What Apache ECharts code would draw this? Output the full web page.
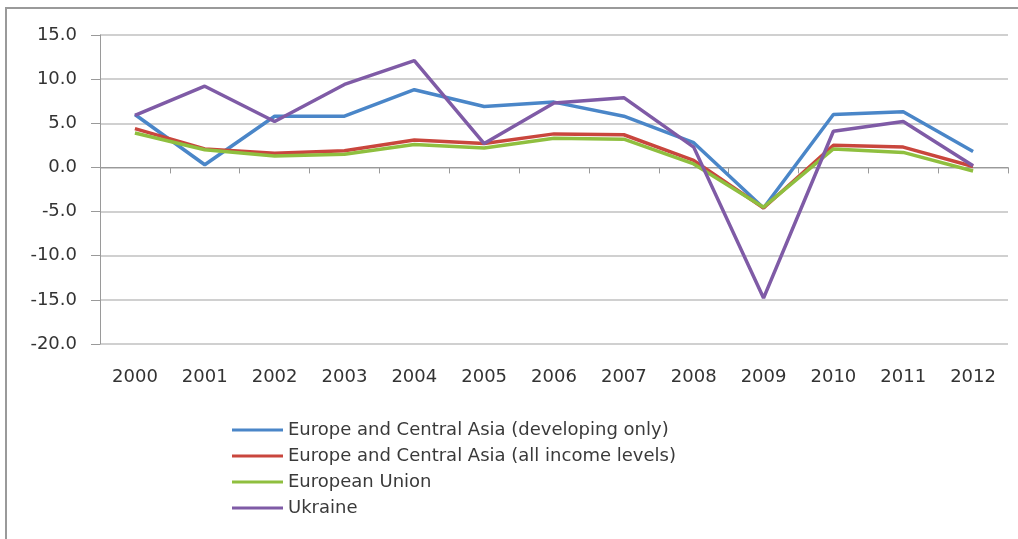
<!DOCTYPE html>
<html>
<head>
<meta charset="utf-8">
<script src="https://cdn.jsdelivr.net/npm/echarts@6/dist/echarts.min.js"></script>
<style>
  html, body { margin: 0; padding: 0; background: #ffffff; }
  #chart { width: 1018px; height: 539px; }
</style>
</head>
<body>
<div id="chart"></div>
<script>
// GDP growth (annual %), 2000-2012
const years = ['2000','2001','2002','2003','2004','2005','2006','2007','2008','2009','2010','2011','2012'];
const ecaDeveloping = [6.0, 0.3, 5.8, 5.8, 8.8, 6.9, 7.4, 5.8, 2.8, -4.6, 6.0, 6.3, 1.8];
const ecaAllIncome  = [4.4, 2.1, 1.6, 1.9, 3.1, 2.7, 3.8, 3.7, 0.8, -4.6, 2.5, 2.3, 0.1];
const euroUnion     = [3.9, 2.0, 1.3, 1.5, 2.6, 2.2, 3.3, 3.2, 0.4, -4.5, 2.1, 1.7, -0.4];
const ukraine       = [5.9, 9.2, 5.2, 9.4, 12.1, 2.7, 7.3, 7.9, 2.3, -14.8, 4.1, 5.2, 0.2];
const seriesNames = [
  'Europe and Central Asia (developing only)',
  'Europe and Central Asia (all income levels)',
  'European Union',
  'Ukraine'
];
const yMin = -20, yMax = 15, yStep = 5;

const colors = ['#4a86c8', '#c9463d', '#8fbf3f', '#7f5ba6'];
const font = '"DejaVu Sans", sans-serif';

const chart = echarts.init(document.getElementById('chart'));
const values = [ecaDeveloping, ecaAllIncome, euroUnion, ukraine];

chart.setOption({
  animation: false,
  backgroundColor: '#ffffff',
  color: colors,
  graphic: [
    { type: 'line', shape: { x1: 5, y1: 8, x2: 1018, y2: 8 }, style: { stroke: '#9a9a9a', lineWidth: 2 } },
    { type: 'line', shape: { x1: 6, y1: 8, x2: 6, y2: 539 }, style: { stroke: '#9a9a9a', lineWidth: 2 } }
  ],
  grid: { left: 100, right: 10, top: 35, bottom: 195, containLabel: false },
  legend: {
    orient: 'vertical',
    left: 232,
    top: 421,
    padding: 0,
    icon: 'rect',
    itemWidth: 51,
    itemHeight: 3,
    itemGap: 8,
    textStyle: { fontFamily: font, fontSize: 18, color: '#3a3a3a' },
    data: seriesNames
  },
  xAxis: [
    {
      type: 'category',
      data: years,
      boundaryGap: true,
      axisLine: { onZero: true, lineStyle: { color: '#9a9a9a', width: 1 } },
      axisTick: { show: true, length: 6, lineStyle: { color: '#9a9a9a' } },
      axisLabel: { show: false },
      splitLine: { show: false }
    },
    {
      type: 'category',
      data: years,
      position: 'bottom',
      boundaryGap: true,
      axisLine: { show: false, onZero: false },
      axisTick: { show: false },
      axisLabel: { fontFamily: font, fontSize: 18, color: '#333333', margin: 24 },
      splitLine: { show: false }
    }
  ],
  yAxis: {
    type: 'value',
    min: yMin,
    max: yMax,
    interval: yStep,
    axisLine: { show: true, lineStyle: { color: '#9a9a9a' } },
    axisTick: { show: true, length: 9, lineStyle: { color: '#9a9a9a' } },
    axisLabel: {
      fontFamily: font, fontSize: 18, color: '#333333', margin: 23,
      formatter: v => v.toFixed(1)
    },
    splitLine: { show: true, lineStyle: { color: '#d0d0d0', width: 2 } }
  },
  series: seriesNames.map((name, i) => ({
    name,
    type: 'line',
    xAxisIndex: 0,
    data: values[i],
    symbol: 'none',
    lineStyle: { width: 3.5, color: colors[i] },
    z: 2 + i
  }))
});
</script>
</body>
</html>
